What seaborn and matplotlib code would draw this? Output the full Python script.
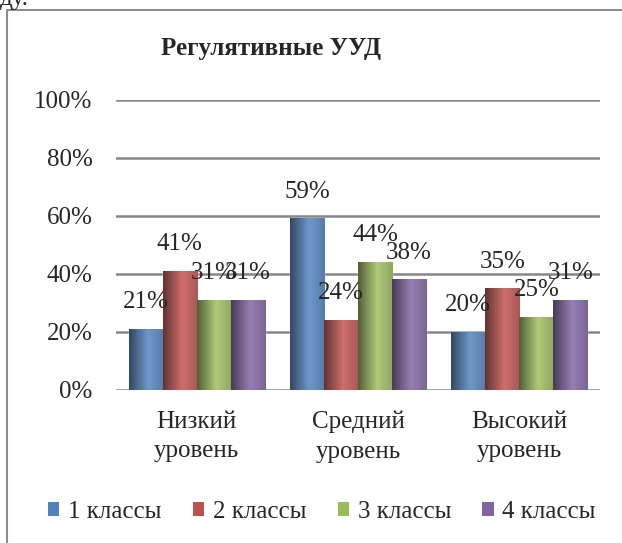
import numpy as np
import pandas as pd
import matplotlib
matplotlib.use("Agg")
import matplotlib.pyplot as plt
import matplotlib.colors as mcolors
from matplotlib.patches import Patch, Rectangle
import seaborn as sns

# Chart data
categories = ["Низкий\nуровень", "Средний\nуровень", "Высокий\nуровень"]
series = ["1 классы", "2 классы", "3 классы", "4 классы"]
values_1 = [21, 59, 20]
values_2 = [41, 24, 35]
values_3 = [31, 44, 25]
values_4 = [31, 38, 31]
y_ticks = [0, 20, 40, 60, 80, 100]

colors = ["#4F81BD", "#C0504D", "#9BBB59", "#8064A2"]

rows = []
for name, vals in zip(series, [values_1, values_2, values_3, values_4]):
    for cat, v in zip(categories, vals):
        rows.append({"cat": cat, "series": name, "value": v})
df = pd.DataFrame(rows)

sns.set_style("white")
plt.rcParams["font.family"] = ["Liberation Serif", "DejaVu Serif"]

fig = plt.figure(figsize=(6.22, 5.43), dpi=100)
ax = fig.add_axes([116 / 622, 1 - 390 / 543, 484 / 622, 290 / 543])

sns.barplot(data=df, x="cat", y="value", hue="series", palette=colors,
            width=0.845, order=categories, hue_order=series,
            legend=False, ax=ax, zorder=3)


def shade(base):
    rgb = np.array(mcolors.to_rgb(base))
    dark = rgb * 0.55
    light = np.clip(rgb * 1.13 + 0.02, 0, 1)
    t = np.linspace(0, 1, 64)
    out = np.zeros((1, 64, 3))
    for c in range(3):
        out[0, :, c] = np.interp(t, [0, 0.55, 1], [dark[c], light[c], rgb[c] * 0.95])
    return out


# gradient fill on bars + data labels
for p in list(ax.patches):
    x, w, h = p.get_x(), p.get_width(), p.get_height()
    grad = shade(p.get_facecolor())
    ax.imshow(grad, extent=[x, x + w, 0, h], aspect="auto", zorder=4,
              interpolation="bilinear")
    ax.annotate(f"{h:.0f}%", (x + w / 2, h), xytext=(0, 27),
                textcoords="offset pixels", ha="center", va="center",
                fontsize=18, zorder=6)

ax.set_xlim(-0.5, 2.5)
ax.set_ylim(0, 100)
ax.set_yticks(y_ticks)
ax.set_yticklabels([f"{t}%" for t in y_ticks])
for t in y_ticks:
    ax.axhline(t, color="#878787", lw=1.8, zorder=1)
ax.tick_params(axis="y", length=0, pad=17, labelsize=18)
ax.tick_params(axis="x", length=0, pad=15, labelsize=18)
for lbl in ax.get_xticklabels():
    lbl.set_linespacing(1.45)
ax.set_xlabel("")
ax.set_ylabel("")
for s in ax.spines.values():
    s.set_visible(False)

fig.text(271 / 622, 1 - 48 / 543, "Регулятивные УУД", ha="center",
         va="center", fontsize=18, fontweight="bold")

handles = [Patch(facecolor=c, edgecolor="none") for c in colors]
fig.legend(handles, series, loc="center", bbox_to_anchor=(322 / 622, 1 - 512 / 543),
           ncol=4, frameon=False, fontsize=18, handlelength=0.45,
           handleheight=0.45, handletextpad=0.35, columnspacing=1.25)

# chart frame and stray document text
fig.patches.append(Rectangle((7 / 622, -0.1), 1.2, 1.1 - 10 / 543,
                             transform=fig.transFigure, fill=False,
                             edgecolor="#8c8c8c", lw=1.5))
fig.text(0.0, 1 - 5 / 543, "ду.", ha="left", va="baseline", fontsize=18)

plt.savefig("out.png", dpi=100)
